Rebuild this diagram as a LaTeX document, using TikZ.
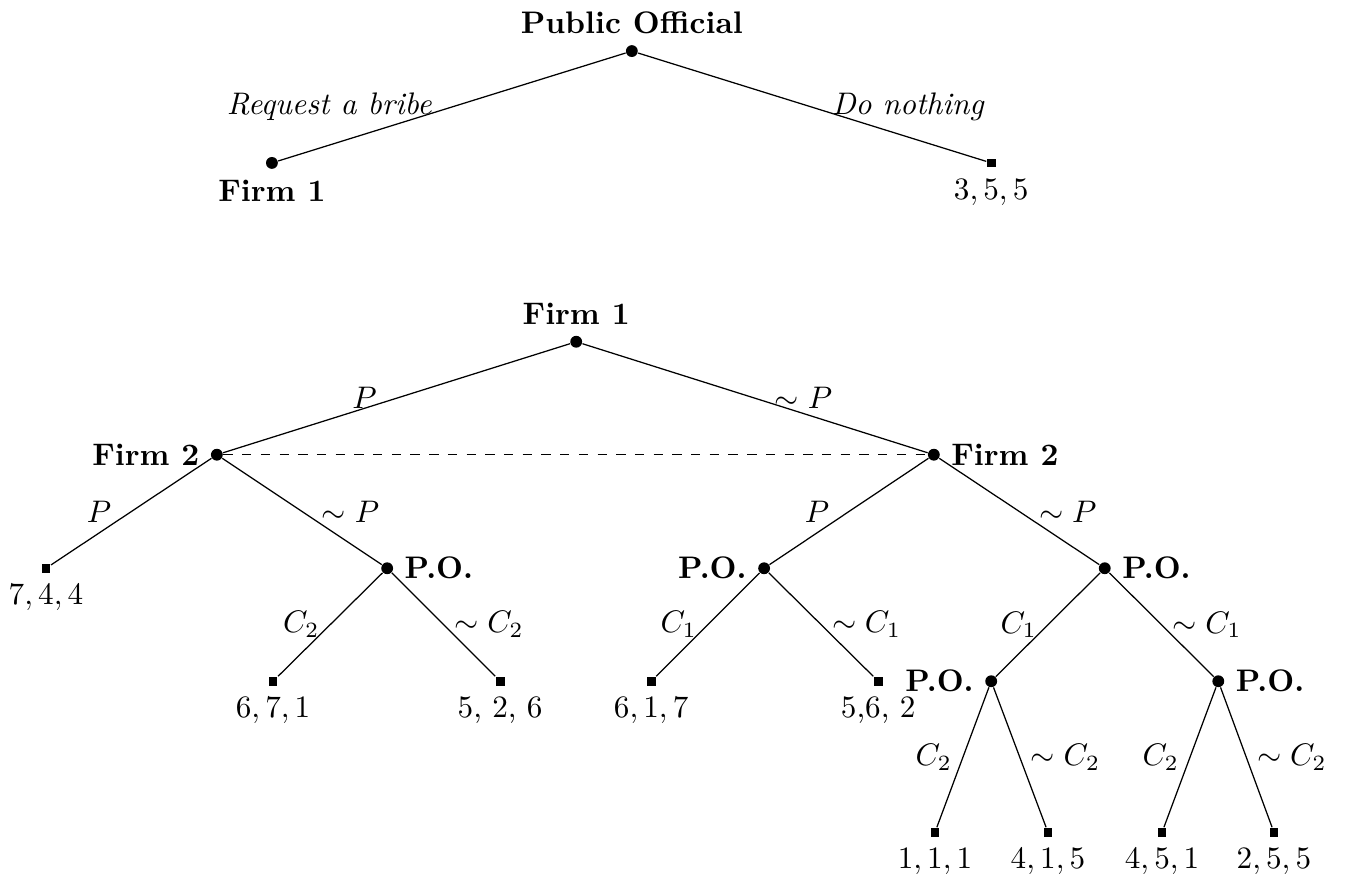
\documentclass[tikz,border=0pt]{standalone}

\begin{document}
\begin{tikzpicture}[x=0.64cm, y=0.64cm,
  dec/.style={circle, fill, inner sep=0pt, minimum size=3.8pt},
  term/.style={rectangle, fill, inner sep=0pt, minimum size=2.8pt}]

\useasboundingbox (0,0) rectangle (23.71,-15.47);

% first move
\node[dec, label={above:\textbf{Public Official}}] (po) at (11.13,-0.90) {};
\node[dec, label={below:\textbf{Firm 1}}] (fa) at (4.79,-2.87) {};
\node[term, label={below:$3,5,5$}] (ta) at (17.46,-2.87) {};

\draw (po) -- node[left=1mm] (bribe) {\textit{Request a bribe}} (fa);
\draw (po) -- node[right=1mm] (nothing) {\textit{Do nothing}} (ta);

% firms
\node[dec, label={above:\textbf{Firm 1}}] (f1) at (10.15,-6.02) {};
\node[dec, label={left:\textbf{Firm 2}}] (f2l) at (3.82,-8.01) {};
\node[dec, label={right:\textbf{Firm 2}}] (f2r) at (16.45,-8.01) {};

\draw (f1) -- node[left=1mm] (pa) {$P$} (f2l);
\draw (f1) -- node[right=1mm] (npa) {$\sim P$} (f2r);
\draw[dashed] (f2l) -- (f2r);

\node[term, label={below:$7,4,4$}] (t744) at (0.81,-10.01) {};
\node[dec, label={right:\textbf{P.O.}}] (po1) at (6.82,-10.01) {};
\node[dec, label={left:\textbf{P.O.}}] (po2) at (13.46,-10.01) {};
\node[dec, label={right:\textbf{P.O.}}] (po3) at (19.46,-10.01) {};

\draw (f2l) -- node[left=1mm] (pb) {$P$} (t744);
\draw (f2l) -- node[right=1mm] (npb) {$\sim P$} (po1);
\draw (f2r) -- node[left=1mm] (pc) {$P$} (po2);
\draw (f2r) -- node[right=1mm] (npc) {$\sim P$} (po3);

% public official
\node[term, label={below:$6,7,1$}] (t671) at (4.81,-12.00) {};
\node[term, label={below:5, 2, 6}] (t526) at (8.81,-12.00) {};
\node[term, label={below:$6,1,7$}] (t617) at (11.47,-12.00) {};
\node[term, label={below:5,6, 2}] (t562) at (15.47,-12.00) {};
\node[dec, label={left:\textbf{P.O.}}] (po4) at (17.46,-12.00) {};
\node[dec, label={right:\textbf{P.O.}}] (po5) at (21.46,-12.00) {};

\draw (po1) -- node[left] (ca) {$C_2$} (t671);
\draw (po1) -- node[right] (nca) {$\sim C_2$} (t526);
\draw (po2) -- node[left] (cb) {$C_1$} (t617);
\draw (po2) -- node[right] (ncb) {$\sim C_1$} (t562);
\draw (po3) -- node[left] (cc) {$C_1$} (po4);
\draw (po3) -- node[right] (ncc) {$\sim C_1$} (po5);

\node[term, label={below:$1,1,1$}] (t111) at (16.47,-14.66) {};
\node[term, label={below:$4,1,5$}] (t415) at (18.46,-14.66) {};
\node[term, label={below:$4,5,1$}] (t451) at (20.47,-14.66) {};
\node[term, label={below:$2,5,5$}] (t255) at (22.44,-14.66) {};

\draw (po4) -- node[left] (cd) {$C_2$} (t111);
\draw (po4) -- node[right] (ncd) {$\sim C_2$} (t415);
\draw (po5) -- node[left] (ce) {$C_2$} (t451);
\draw (po5) -- node[right] (nce) {$\sim C_2$} (t255);

\end{tikzpicture}
\end{document}
